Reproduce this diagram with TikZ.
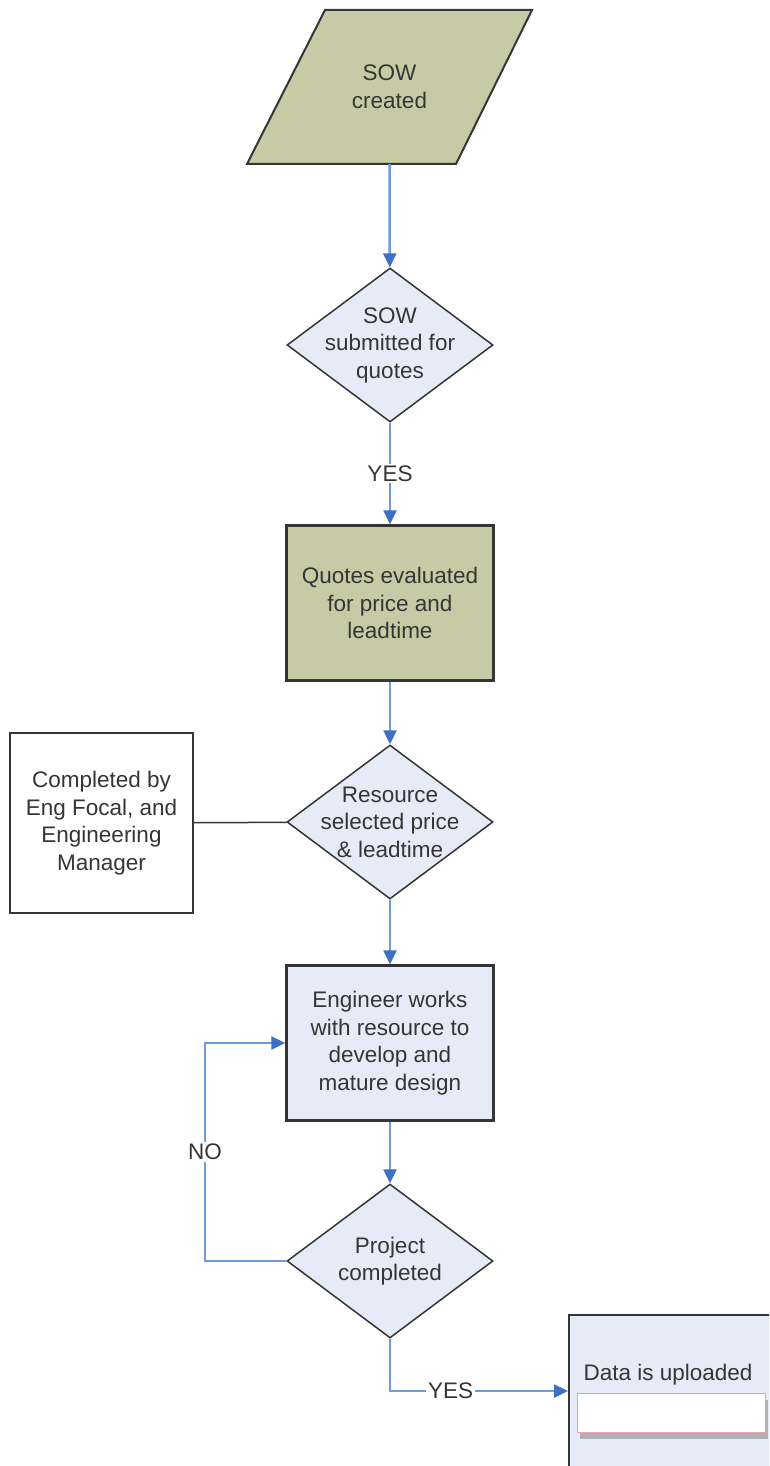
\documentclass[tikz,border=0pt]{standalone}
\usepackage{fontspec}
\setmainfont{Liberation Sans}
\usetikzlibrary{shapes.geometric,arrows.meta,shadows}
\definecolor{sowgreen}{HTML}{C6CBA5}
\definecolor{paleblue}{HTML}{E6ECF7}
\definecolor{flowblue}{HTML}{6E9BDB}
\definecolor{tipblue}{HTML}{3C6FC5}
\definecolor{inkgray}{HTML}{353535}
\definecolor{slotred}{HTML}{E8A4A4}

\begin{document}
\begin{tikzpicture}[x=1pt,y=-1pt]
\tikzstyle{every node}+=[inner sep=0pt, text=inkgray, align=center, font=\fontsize{22.5}{27.5}\selectfont]
\tikzstyle{dec}=[draw=inkgray, line width=1.5pt, fill=paleblue, diamond, minimum width=206pt, minimum height=154pt]
\tikzstyle{proc}=[draw=inkgray, line width=2.5pt, minimum width=207pt, minimum height=155pt]
\tikzstyle{flow}=[draw=flowblue, line width=2.5pt, -{Triangle[length=14pt,width=13pt,color=tipblue]}]
\tikzstyle{lbl}=[fill=white, inner sep=2pt]
\useasboundingbox (0,0) rectangle (769,1466);
\clip (0,0) rectangle (769,1466);
\filldraw [draw=inkgray, line width=2pt, fill=sowgreen] (325,10) -- (532,10) -- (456,164) -- (247,164) -- cycle;
\node [minimum height=154pt] (sow) at (389.5,87) {SOW\\created};
\node [dec] (submit) at (390,345) {};
\node at (submit) {SOW\\submitted for\\quotes};
\node [proc, fill=sowgreen] (quotes) at (390,603) {Quotes evaluated\\for price and\\leadtime};
\node [dec] (select) at (390,822) {};
\node at (select) {Resource\\selected price\\\& leadtime};
\node [draw=inkgray, line width=2pt, fill=white, minimum width=183pt, minimum height=180pt] (focal) at (101.5,823) {Completed by\\Eng Focal, and\\Engineering\\Manager};
\node [proc, fill=paleblue] (engineer) at (390,1043) {Engineer works\\with resource to\\develop and\\mature design};
\node [dec] (done) at (390,1261) {};
\node at (done) {Project\\completed};
\node [draw=inkgray, line width=2pt, fill=paleblue, anchor=north west, minimum width=240pt, minimum height=200pt] (data) at (568,1314) {};
\node (upload) at (668,1375) {Data is uploaded};
\node [draw=slotred, line width=1pt, fill=white, minimum width=188pt, minimum height=39pt, drop shadow={shadow xshift=3pt, shadow yshift=-7pt, opacity=.55}] (slot) at (671,1412.5) {};
\coordinate (noloop) at (205,1150);
\coordinate (datain) at (568,1391);
\draw [flow] (sow.south) -- (submit);
\draw [flow] (submit) -- node [lbl] {YES} (quotes);
\draw [flow] (quotes) -- (select);
\draw [inkgray, line width=1.5pt] (focal) -- (select);
\draw [flow] (select) -- (engineer);
\draw [flow] (engineer) -- (done);
\draw [flow] (done.west) -- (noloop |- done.west) -- node [lbl] {NO} (noloop |- engineer.west) -- (engineer.west);
\draw [flow] (done.south) |- node [lbl, pos=0.67] {YES} (datain);
\end{tikzpicture}
\end{document}
